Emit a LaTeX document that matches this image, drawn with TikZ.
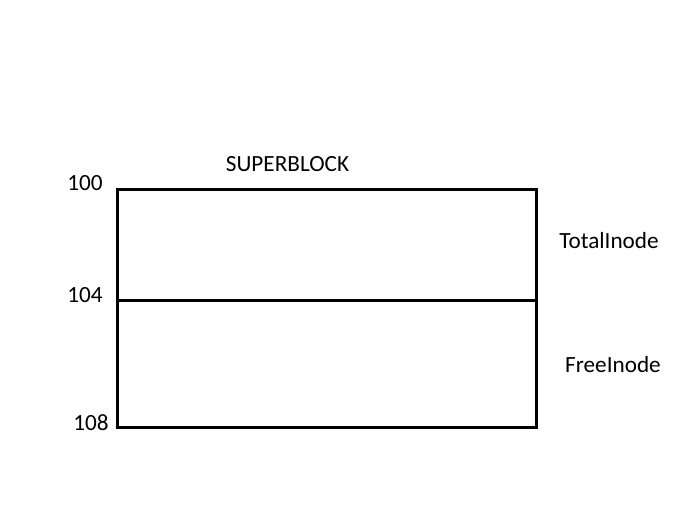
\documentclass[tikz,border=0pt]{standalone}
\usepackage{fontspec}
\setmainfont{Carlito}
\begin{document}
\begin{tikzpicture}[x=1pt,y=-1pt,
  lbl/.style={inner sep=0pt,font=\fontsize{23.2}{27}\selectfont},
  boxline/.style={line width=3pt,line cap=rect}]
\useasboundingbox (0,0) rectangle (699,532);
\coordinate (tl) at (117.5,189);
\coordinate (tr) at (536,189);
\coordinate (ml) at (117.5,300);
\coordinate (mr) at (536,300);
\coordinate (bl) at (117.5,427);
\coordinate (br) at (536,427);
\draw[boxline] (tl) -- (tr) -- (br) -- (bl) -- cycle;
\draw[boxline] (ml) -- (mr);
\node[lbl] (title) at (287.5,164.5) {SUPERBLOCK};
\node[lbl] (a100) at (85,183) {100};
\node[lbl] (a104) at (85,295) {104};
\node[lbl] (a108) at (91,423) {108};
\node[lbl] (total) at (609,241) {TotalInode};
\node[lbl] (free) at (613,365) {FreeInode};
\end{tikzpicture}
\end{document}
